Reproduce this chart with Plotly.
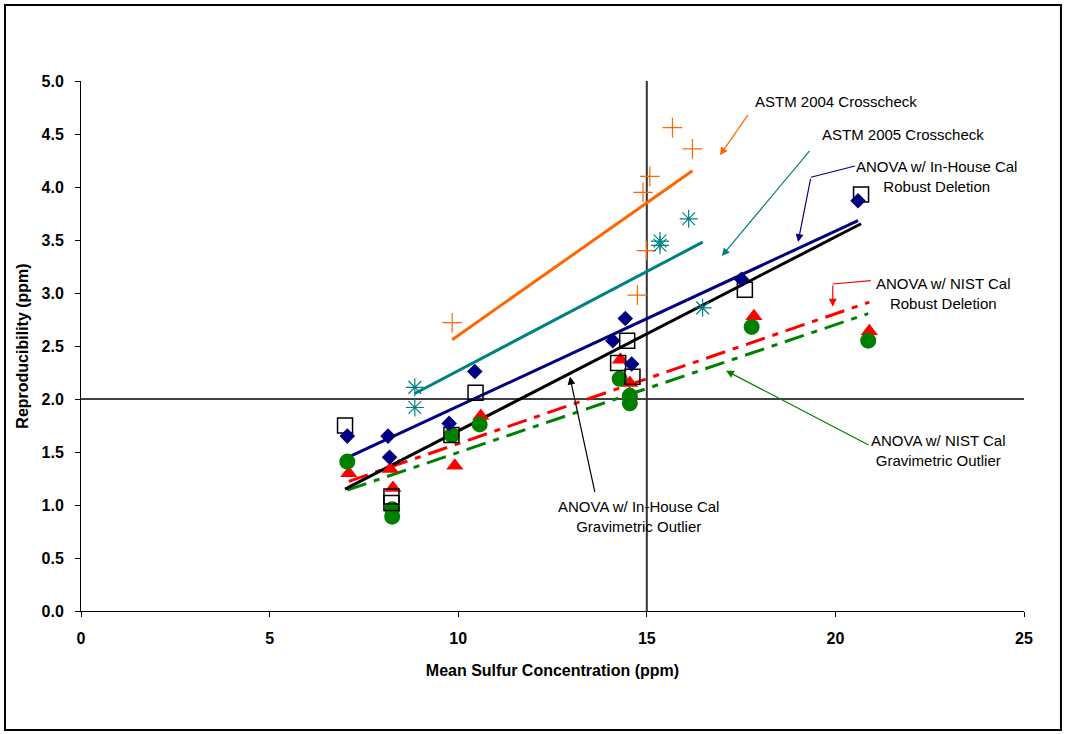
import numpy as np
import plotly.graph_objects as go

# ---------------- data ----------------
inhouse_robust_x = [7.06, 8.14, 8.18, 9.76, 10.44, 14.10, 14.43, 14.60, 17.51, 20.60]
inhouse_robust_y = [1.65, 1.65, 1.45, 1.77, 2.26, 2.55, 2.76, 2.33, 3.13, 3.87]

inhouse_grav_x = [7.00, 8.23, 8.23, 9.82, 10.46, 14.24, 14.48, 14.62, 17.60, 20.68]
inhouse_grav_y = [1.75, 1.08, 1.02, 1.66, 2.06, 2.34, 2.55, 2.21, 3.03, 3.93]

nist_robust_x = [7.10, 8.20, 8.27, 9.91, 10.60, 14.30, 14.55, 14.55, 17.84, 20.90]
nist_robust_y = [1.30, 1.34, 1.16, 1.37, 1.84, 2.37, 2.15, 2.05, 2.78, 2.64]

nist_grav_x = [7.06, 8.25, 8.25, 9.83, 10.57, 14.28, 14.55, 14.55, 17.78, 20.87]
nist_grav_y = [1.41, 0.89, 0.96, 1.66, 1.76, 2.19, 2.03, 1.96, 2.68, 2.55]

astm2004_x = [9.84, 14.75, 14.90, 14.99, 15.08, 15.68, 16.21]
astm2004_y = [2.72, 2.98, 3.95, 3.40, 4.10, 4.56, 4.36]

astm2005_x = [8.85, 8.85, 15.35, 15.35, 16.11, 16.48]
astm2005_y = [2.11, 1.92, 3.49, 3.45, 3.70, 2.86]

x_ticks = [0, 5, 10, 15, 20, 25]
y_ticks = [0.0, 0.5, 1.0, 1.5, 2.0, 2.5, 3.0, 3.5, 4.0, 4.5, 5.0]

FONT = "Arial, 'Liberation Sans', sans-serif"
NAVY, BLACK, RED, GREEN, ORANGE, TEAL = "#000080", "#000000", "#FF0000", "#008000", "#FF6600", "#008080"
DASHDOT = "20px,8px,6px,8px"


def trend(xs, ys):
    m, b = np.polyfit(xs, ys, 1)
    x0, x1 = min(xs), max(xs)
    return [x0, x1], [m * x0 + b, m * x1 + b]


fig = go.Figure()

# trend lines
for xs, ys, col, dash in [
    (astm2004_x, astm2004_y, ORANGE, "solid"),
    (astm2005_x, astm2005_y, TEAL, "solid"),
    (nist_robust_x, nist_robust_y, RED, DASHDOT),
    (nist_grav_x, nist_grav_y, GREEN, DASHDOT),
    (inhouse_robust_x, inhouse_robust_y, NAVY, "solid"),
    (inhouse_grav_x, inhouse_grav_y, BLACK, "solid"),
]:
    lx, ly = trend(xs, ys)
    fig.add_trace(go.Scatter(x=lx, y=ly, mode="lines", showlegend=False,
                             line=dict(color=col, width=3, dash=dash), hoverinfo="skip"))

# markers
fig.add_trace(go.Scatter(x=nist_robust_x, y=nist_robust_y, mode="markers", name="ANOVA w/ NIST Cal Robust Deletion",
                         marker=dict(symbol="triangle-up", size=15, color=RED)))
fig.add_trace(go.Scatter(x=nist_grav_x, y=nist_grav_y, mode="markers", name="ANOVA w/ NIST Cal Gravimetric Outlier",
                         marker=dict(symbol="circle", size=16, color=GREEN)))
fig.add_trace(go.Scatter(x=inhouse_grav_x, y=inhouse_grav_y, mode="markers", name="ANOVA w/ In-House Cal Gravimetric Outlier",
                         marker=dict(symbol="square-open", size=15, color=BLACK, line=dict(width=1.5))))
fig.add_trace(go.Scatter(x=inhouse_robust_x, y=inhouse_robust_y, mode="markers", name="ANOVA w/ In-House Cal Robust Deletion",
                         marker=dict(symbol="diamond", size=12, color=NAVY)))
fig.add_trace(go.Scatter(x=astm2004_x, y=astm2004_y, mode="markers", name="ASTM 2004 Crosscheck",
                         marker=dict(symbol="cross-thin", size=14, color=ORANGE, line=dict(width=1.2, color=ORANGE))))
fig.add_trace(go.Scatter(x=astm2005_x, y=astm2005_y, mode="markers", name="ASTM 2005 Crosscheck",
                         marker=dict(symbol="asterisk-open", size=15, color=TEAL, line=dict(width=1.2, color=TEAL))))

shapes = [
    dict(type="line", xref="x", yref="y", x0=0, x1=25, y0=2.0, y1=2.0, line=dict(color="black", width=1.5), layer="below"),
    dict(type="line", xref="x", yref="y", x0=15, x1=15, y0=0, y1=5, line=dict(color="#333333", width=2), layer="below"),
    # bent connector first segments
    dict(type="line", xref="x", yref="y", x0=20.52, y0=4.198, x1=19.35, y1=4.092, line=dict(color=NAVY, width=1.2)),
    dict(type="line", xref="x", yref="y", x0=20.94, y0=3.116, x1=19.93, y1=3.085, line=dict(color=RED, width=1.2)),
    # figure border
    dict(type="rect", xref="paper", yref="paper", x0=-0.0806, x1=1.0392, y0=-0.2245, y1=1.1434,
         line=dict(color="black", width=2), layer="below"),
]

annotations = []
txt_font = dict(family=FONT, size=15, color="black")
for text, x, y, xa in [
    ("ASTM 2004 Crosscheck", 17.82, 4.805, "left"),
    ("ASTM 2005 Crosscheck", 19.59, 4.50, "left"),
    ("ANOVA w/ In-House Cal<br>Robust Deletion", 22.69, 4.097, "center"),
    ("ANOVA w/ NIST Cal<br>Robust Deletion", 22.85, 2.995, "center"),
    ("ANOVA w/ NIST Cal<br>Gravimetric Outlier", 22.73, 1.514, "center"),
    ("ANOVA w/ In-House Cal<br>Gravimetric Outlier", 14.78, 0.892, "center"),
]:
    annotations.append(dict(text=text, x=x, y=y, xref="x", yref="y", xanchor=xa, yanchor="middle",
                            showarrow=False, font=txt_font, align="center"))

for tx, ty, hx, hy, col in [
    (17.71, 4.695, 16.94, 4.30, ORANGE),
    (19.35, 4.356, 16.99, 3.349, TEAL),
    (19.35, 4.092, 19.01, 3.481, NAVY),
    (19.93, 3.085, 19.93, 2.871, RED),
    (20.92, 1.559, 17.10, 2.267, GREEN),
    (13.63, 1.110, 12.96, 2.21, BLACK),
]:
    annotations.append(dict(x=hx, y=hy, ax=tx, ay=ty, xref="x", yref="y", axref="x", ayref="y",
                            text="", showarrow=True, arrowhead=2, arrowsize=1.3, arrowwidth=1.2,
                            arrowcolor=col, standoff=0, startstandoff=0))

fig.update_layout(
    width=1066, height=734,
    margin=dict(l=81, r=42, t=81, b=123),
    paper_bgcolor="white", plot_bgcolor="white",
    showlegend=False,
    font=dict(family=FONT, color="black"),
    shapes=shapes, annotations=annotations,
    xaxis=dict(range=[0, 25], tickvals=x_ticks, ticktext=[str(v) for v in x_ticks],
               showgrid=False, zeroline=False, showline=True, linecolor="black", linewidth=1,
               ticks="outside", ticklen=5, tickcolor="black", ticklabelstandoff=8,
               tickfont=dict(family=FONT, size=16, weight="bold"),
               title=dict(text="<b>Mean Sulfur Concentration (ppm)</b>", font=dict(family=FONT, size=16), standoff=18)),
    yaxis=dict(range=[0, 5], tickvals=y_ticks, ticktext=[f"{v:.1f}" for v in y_ticks],
               showgrid=False, zeroline=False, showline=True, linecolor="black", linewidth=1,
               ticks="outside", ticklen=5, tickcolor="black", ticklabelstandoff=8,
               tickfont=dict(family=FONT, size=16, weight="bold"),
               title=dict(text="<b>Reproducibility (ppm)</b>", font=dict(family=FONT, size=16), standoff=8)),
)

fig.write_html("out.html", config={"displayModeBar": False},
               post_script="document.body.style.margin='0';document.body.style.overflow='hidden';")
